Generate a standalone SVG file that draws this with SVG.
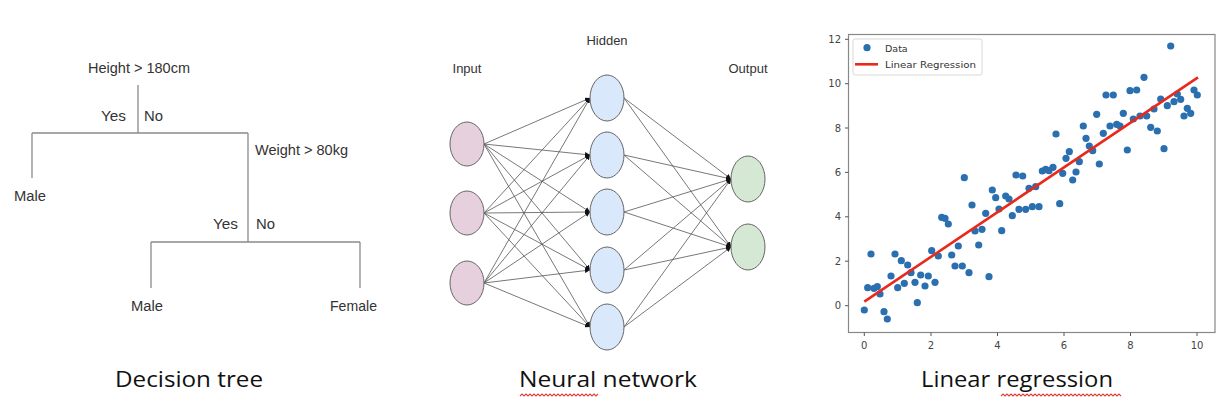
<svg xmlns="http://www.w3.org/2000/svg" width="1222" height="406" viewBox="0 0 1222 406">
<style>
.t{font-family:"Liberation Sans",Arial,sans-serif;font-size:13px;fill:#333}
.tt{font-family:"Liberation Sans",Arial,sans-serif;font-size:14px;fill:#333}
.edge{stroke:#8a8a8a;stroke-width:1.3;fill:none}
.nn{stroke:#555;stroke-width:0.8;fill:none}
.in{fill:#e6d0de;stroke:#666;stroke-width:1}
.hid{fill:#dae8fc;stroke:#666;stroke-width:1}
.out{fill:#d5e8d4;stroke:#666;stroke-width:1}
.tick{font-family:"DejaVu Sans",sans-serif;font-size:10px;fill:#444}
.cap{font-family:"Open Sans","Liberation Sans",sans-serif;font-size:21px;fill:#111}
.pt{fill:#2a6fb0}
.sq{stroke:#e0403a;stroke-width:1.1;fill:none}
</style>
<defs>
<marker id="ah" viewBox="0 0 6 6" refX="6" refY="3" markerWidth="5" markerHeight="5" orient="auto" markerUnits="userSpaceOnUse">
<path d="M0,0 L6,3 L0,6 z" fill="#111"/>
</marker>
</defs>
<rect width="1222" height="406" fill="#fff"/>

<!-- Decision tree -->
<g id="tree-edges">
<path class="edge" d="M138,85 V133 M32,133 H248 M32,133 V178 M248,133 V242 M151,242 H360 M151,242 V288 M360,242 V288"/>
</g>
<g id="node-height"><text class="tt" x="88" y="73" textLength="102" lengthAdjust="spacingAndGlyphs">Height &gt; 180cm</text></g>
<g id="label-yes1"><text class="tt" x="101" y="121" textLength="25" lengthAdjust="spacingAndGlyphs">Yes</text></g>
<g id="label-no1"><text class="tt" x="144" y="121" textLength="19" lengthAdjust="spacingAndGlyphs">No</text></g>
<g id="node-male1"><text class="tt" x="14" y="201" textLength="32" lengthAdjust="spacingAndGlyphs">Male</text></g>
<g id="node-weight"><text class="tt" x="255" y="155" textLength="93" lengthAdjust="spacingAndGlyphs">Weight &gt; 80kg</text></g>
<g id="label-yes2"><text class="tt" x="213" y="229" textLength="25" lengthAdjust="spacingAndGlyphs">Yes</text></g>
<g id="label-no2"><text class="tt" x="256" y="229" textLength="19" lengthAdjust="spacingAndGlyphs">No</text></g>
<g id="node-male2"><text class="tt" x="131" y="311" textLength="32" lengthAdjust="spacingAndGlyphs">Male</text></g>
<g id="node-female"><text class="tt" x="330" y="311" textLength="47" lengthAdjust="spacingAndGlyphs">Female</text></g>

<!-- Neural network -->
<g id="nn-labels">
<text class="t" x="607" y="45" text-anchor="middle">Hidden</text>
<text class="t" x="467" y="73" text-anchor="middle">Input</text>
<text class="t" x="748" y="73" text-anchor="middle">Output</text>
</g>
<g id="nn-connectors" class="nn" marker-end="url(#ah)">
<line x1="484" y1="144" x2="590" y2="98"/><line x1="484" y1="144" x2="590" y2="155"/><line x1="484" y1="144" x2="590" y2="212"/><line x1="484" y1="144" x2="590" y2="270"/><line x1="484" y1="144" x2="590" y2="327"/>
<line x1="484" y1="213" x2="590" y2="98"/><line x1="484" y1="213" x2="590" y2="155"/><line x1="484" y1="213" x2="590" y2="212"/><line x1="484" y1="213" x2="590" y2="270"/><line x1="484" y1="213" x2="590" y2="327"/>
<line x1="484" y1="283" x2="590" y2="98"/><line x1="484" y1="283" x2="590" y2="155"/><line x1="484" y1="283" x2="590" y2="212"/><line x1="484" y1="283" x2="590" y2="270"/><line x1="484" y1="283" x2="590" y2="327"/>
<line x1="624" y1="98" x2="731" y2="179"/><line x1="624" y1="98" x2="731" y2="247"/>
<line x1="624" y1="155" x2="731" y2="179"/><line x1="624" y1="155" x2="731" y2="247"/>
<line x1="624" y1="212" x2="731" y2="179"/><line x1="624" y1="212" x2="731" y2="247"/>
<line x1="624" y1="270" x2="731" y2="179"/><line x1="624" y1="270" x2="731" y2="247"/>
<line x1="624" y1="327" x2="731" y2="179"/><line x1="624" y1="327" x2="731" y2="247"/>
</g>
<g id="in1"><ellipse class="in" cx="467" cy="144" rx="17" ry="22"/></g>
<g id="in2"><ellipse class="in" cx="467" cy="213" rx="17" ry="22"/></g>
<g id="in3"><ellipse class="in" cx="467" cy="283" rx="17" ry="22"/></g>
<g id="h1"><ellipse class="hid" cx="607" cy="98" rx="17" ry="23"/></g>
<g id="h2"><ellipse class="hid" cx="607" cy="155" rx="17" ry="23"/></g>
<g id="h3"><ellipse class="hid" cx="607" cy="212" rx="17" ry="23"/></g>
<g id="h4"><ellipse class="hid" cx="607" cy="270" rx="17" ry="23"/></g>
<g id="h5"><ellipse class="hid" cx="607" cy="327" rx="17" ry="23"/></g>
<g id="o1"><ellipse class="out" cx="748" cy="179" rx="17" ry="23"/></g>
<g id="o2"><ellipse class="out" cx="748" cy="247" rx="17" ry="23"/></g>

<!-- Linear regression plot -->
<g id="plot">
<rect x="848.5" y="34.5" width="366.5" height="298" fill="#fff" stroke="#888" stroke-width="1.2"/>
<path stroke="#555" stroke-width="1" d="M845,39.3H848.5M845,83.7H848.5M845,128H848.5M845,172.4H848.5M845,216.8H848.5M845,261.2H848.5M845,305.7H848.5M864.3,332.5V336M931,332.5V336M997.5,332.5V336M1064,332.5V336M1130.5,332.5V336M1197,332.5V336"/>
<g class="tick" text-anchor="end">
<text x="841" y="43">12</text><text x="841" y="87">10</text><text x="841" y="132">8</text><text x="841" y="176">6</text><text x="841" y="220">4</text><text x="841" y="265">2</text><text x="841" y="309">0</text>
</g>
<g class="tick" text-anchor="middle">
<text x="864.3" y="349">0</text><text x="931" y="349">2</text><text x="997.5" y="349">4</text><text x="1064" y="349">6</text><text x="1130.5" y="349">8</text><text x="1197" y="349">10</text>
</g>
<g id="points" class="pt">
<circle cx="864.3" cy="310" r="3.6"/><circle cx="867.7" cy="287.7" r="3.6"/><circle cx="871" cy="254" r="3.6"/><circle cx="874" cy="288.3" r="3.6"/><circle cx="877.3" cy="286.7" r="3.6"/><circle cx="880" cy="294" r="3.6"/><circle cx="884" cy="311.7" r="3.6"/><circle cx="887.3" cy="319" r="3.6"/><circle cx="891" cy="276" r="3.6"/><circle cx="895" cy="254" r="3.6"/>
<circle cx="897.7" cy="287.7" r="3.6"/><circle cx="901.3" cy="260.7" r="3.6"/><circle cx="904.3" cy="283.3" r="3.6"/><circle cx="907.7" cy="265" r="3.6"/><circle cx="911" cy="272.7" r="3.6"/><circle cx="915" cy="282.3" r="3.6"/><circle cx="917.3" cy="302.7" r="3.6"/><circle cx="920.7" cy="275" r="3.6"/><circle cx="925" cy="286" r="3.6"/><circle cx="928.3" cy="276" r="3.6"/>
<circle cx="931.7" cy="250.7" r="3.6"/><circle cx="935" cy="282.3" r="3.6"/><circle cx="938.3" cy="256" r="3.6"/><circle cx="941.7" cy="217.3" r="3.6"/><circle cx="945" cy="218.3" r="3.6"/><circle cx="948.3" cy="224" r="3.6"/><circle cx="951.7" cy="255" r="3.6"/><circle cx="955" cy="266" r="3.6"/><circle cx="958.3" cy="246" r="3.6"/><circle cx="962.3" cy="266" r="3.6"/>
<circle cx="964.3" cy="177.7" r="3.6"/><circle cx="969" cy="272.7" r="3.6"/><circle cx="972" cy="205" r="3.6"/><circle cx="975" cy="231" r="3.6"/><circle cx="978.7" cy="245" r="3.6"/><circle cx="982" cy="229.3" r="3.6"/><circle cx="985.7" cy="213.3" r="3.6"/><circle cx="989" cy="276.7" r="3.6"/><circle cx="992.3" cy="190" r="3.6"/><circle cx="995.7" cy="197.7" r="3.6"/>
<circle cx="999" cy="209" r="3.6"/><circle cx="1001.7" cy="230.7" r="3.6"/><circle cx="1005.7" cy="196" r="3.6"/><circle cx="1009" cy="199" r="3.6"/><circle cx="1012.3" cy="215.7" r="3.6"/><circle cx="1016" cy="175" r="3.6"/><circle cx="1019" cy="209.3" r="3.6"/><circle cx="1022.7" cy="176" r="3.6"/><circle cx="1025.7" cy="209.3" r="3.6"/><circle cx="1029" cy="188.3" r="3.6"/>
<circle cx="1032.3" cy="206.7" r="3.6"/><circle cx="1035.7" cy="186.7" r="3.6"/><circle cx="1039" cy="206.7" r="3.6"/><circle cx="1042.3" cy="171" r="3.6"/><circle cx="1045.7" cy="169.3" r="3.6"/><circle cx="1049" cy="170.7" r="3.6"/><circle cx="1053" cy="167.3" r="3.6"/><circle cx="1056" cy="134" r="3.6"/><circle cx="1059.7" cy="203.7" r="3.6"/><circle cx="1062.7" cy="173.3" r="3.6"/>
<circle cx="1066" cy="158.3" r="3.6"/><circle cx="1069.3" cy="151.7" r="3.6"/><circle cx="1072.7" cy="180" r="3.6"/><circle cx="1076" cy="172" r="3.6"/><circle cx="1079.3" cy="161.7" r="3.6"/><circle cx="1083.3" cy="126" r="3.6"/><circle cx="1086" cy="138.3" r="3.6"/><circle cx="1089.3" cy="146" r="3.6"/><circle cx="1092.7" cy="150.7" r="3.6"/><circle cx="1096.7" cy="114.3" r="3.6"/>
<circle cx="1099.3" cy="164" r="3.6"/><circle cx="1103.3" cy="133.3" r="3.6"/><circle cx="1106" cy="95" r="3.6"/><circle cx="1110" cy="126" r="3.6"/><circle cx="1113.3" cy="95" r="3.6"/><circle cx="1116.7" cy="124.3" r="3.6"/><circle cx="1120" cy="126" r="3.6"/><circle cx="1123.3" cy="113.3" r="3.6"/><circle cx="1127.3" cy="150" r="3.6"/><circle cx="1130" cy="90.7" r="3.6"/>
<circle cx="1133.3" cy="119" r="3.6"/><circle cx="1136.7" cy="90" r="3.6"/><circle cx="1140" cy="116" r="3.6"/><circle cx="1144" cy="77.3" r="3.6"/><circle cx="1146.7" cy="116" r="3.6"/><circle cx="1150.7" cy="127.3" r="3.6"/><circle cx="1154" cy="109" r="3.6"/><circle cx="1157.3" cy="131" r="3.6"/><circle cx="1160.7" cy="99" r="3.6"/><circle cx="1164" cy="148.7" r="3.6"/>
<circle cx="1167.3" cy="105.7" r="3.6"/><circle cx="1170.7" cy="46" r="3.6"/><circle cx="1174" cy="101.7" r="3.6"/><circle cx="1177.3" cy="94" r="3.6"/><circle cx="1180.7" cy="99.3" r="3.6"/><circle cx="1184" cy="116" r="3.6"/><circle cx="1187.3" cy="108.3" r="3.6"/><circle cx="1190.7" cy="113.3" r="3.6"/><circle cx="1194" cy="90" r="3.6"/><circle cx="1197.3" cy="95" r="3.6"/>
</g>
<line x1="864.3" y1="301.7" x2="1198" y2="77.3" stroke="#e8291c" stroke-width="2.6"/>
<g id="legend">
<rect x="853" y="39" width="129" height="36" rx="2" fill="#fff" fill-opacity="0.85" stroke="#d8d8d8" stroke-width="1"/>
<circle class="pt" cx="867" cy="47.7" r="3.6"/>
<text x="885" y="51.5" font-family="DejaVu Sans,sans-serif" font-size="9.5" fill="#333">Data</text>
<line x1="855" y1="64.3" x2="878" y2="64.3" stroke="#e8291c" stroke-width="2.6"/>
<text x="885" y="68" font-family="DejaVu Sans,sans-serif" font-size="9.5" fill="#333" textLength="91" lengthAdjust="spacingAndGlyphs">Linear Regression</text>
</g>
</g>

<!-- Captions -->
<g id="captions">
<text class="cap" x="115" y="387" textLength="148" lengthAdjust="spacingAndGlyphs">Decision tree</text>
<text class="cap" x="519" y="387" textLength="178" lengthAdjust="spacingAndGlyphs">Neural network</text>
<text class="cap" x="921" y="387" textLength="192" lengthAdjust="spacingAndGlyphs">Linear regression</text>
<path class="sq" d="M520,396 l2,-2 l2,2 l2,-2 l2,2 l2,-2 l2,2 l2,-2 l2,2 l2,-2 l2,2 l2,-2 l2,2 l2,-2 l2,2 l2,-2 l2,2 l2,-2 l2,2 l2,-2 l2,2 l2,-2 l2,2 l2,-2 l2,2 l2,-2 l2,2 l2,-2 l2,2 l2,-2 l2,2 l2,-2 l2,2 l2,-2 l2,2 l2,-2 l2,2 l2,-2 l2,2 l2,-2"/>
<path class="sq" d="M1001,396 l2,-2 l2,2 l2,-2 l2,2 l2,-2 l2,2 l2,-2 l2,2 l2,-2 l2,2 l2,-2 l2,2 l2,-2 l2,2 l2,-2 l2,2 l2,-2 l2,2 l2,-2 l2,2 l2,-2 l2,2 l2,-2 l2,2 l2,-2 l2,2 l2,-2 l2,2 l2,-2 l2,2 l2,-2 l2,2 l2,-2 l2,2 l2,-2 l2,2 l2,-2 l2,2 l2,-2 l2,2 l2,-2 l2,2 l2,-2 l2,2 l2,-2 l2,2 l2,-2 l2,2 l2,-2 l2,2 l2,-2 l2,2 l2,-2 l2,2 l2,-2 l2,2 l2,-2 l2,2 l2,-2 l2,2"/>
</g>
</svg>
